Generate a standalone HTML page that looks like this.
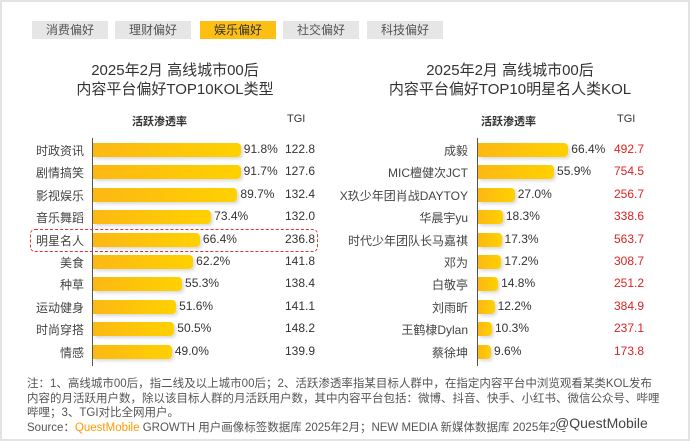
<!DOCTYPE html><html><head><meta charset="utf-8"><style>
body{margin:0;width:690px;height:441px;background:#fff;font-family:"Liberation Sans","Noto Sans CJK SC",sans-serif;overflow:hidden;position:relative}
.frame{position:absolute;left:0;top:0;width:686px;height:437px;border:2px solid #e3e3e3}
.tab{position:absolute;top:21px;width:76px;height:18px;background:#e6e6e6;color:#555;font-size:12px;text-align:center;line-height:18px}
.t{position:absolute;font-size:12px;color:#444;white-space:nowrap}
.h{position:absolute;font-size:11px;color:#333;font-weight:bold}
.title{position:absolute;font-size:15px;color:#333;text-align:center;line-height:19px;width:300px}
.bar{position:absolute;height:14px;background:linear-gradient(90deg,#fcb814,#ffd100);border-radius:0 4px 4px 0;box-shadow:2px 2px 3px rgba(0,0,0,.15)}
.note{position:absolute;left:27px;font-size:11.5px;color:#555;line-height:14.5px;width:635px}
</style></head><body><div class="frame"></div>
<div class="tab" style="left:32px">消费偏好</div>
<div class="tab" style="left:115px">理财偏好</div>
<div class="tab" style="left:200px;background:#fcbf12;color:#333">娱乐偏好</div>
<div class="tab" style="left:283px">社交偏好</div>
<div class="tab" style="left:367px">科技偏好</div>
<div class="title" style="left:25px;top:61px">2025年2月 高线城市00后<br>内容平台偏好TOP10KOL类型</div>
<div class="title" style="left:360px;top:61px">2025年2月 高线城市00后<br>内容平台偏好TOP10明星名人类KOL</div>
<div class="h" style="left:132px;top:113px">活跃渗透率</div><div class="h" style="left:287px;top:113px;font-weight:normal">TGI</div>
<div class="h" style="left:481px;top:113px">活跃渗透率</div><div class="h" style="left:617px;top:113px;font-weight:normal">TGI</div>
<div style="position:absolute;left:92px;top:138px;width:1px;height:228px;background:#555"></div>
<div style="position:absolute;left:477px;top:138px;width:1px;height:228px;background:#555"></div>
<div style="position:absolute;left:30px;top:229px;width:286px;height:21px;border:1px dashed #d33;border-radius:5px"></div>
<div id="c"></div>
<div class="note" style="top:377px">注：1、高线城市00后，指二线及以上城市00后；2、活跃渗透率指某目标人群中，在指定内容平台中浏览观看某类KOL发布内容的月活跃用户数，除以该目标人群的月活跃用户数，其中内容平台包括：微博、抖音、快手、小红书、微信公众号、哔哩哔哩；3、TGI对比全网用户。<br>Source：<span style="color:#f90">QuestMobile</span> GROWTH 用户画像标签数据库 2025年2月；NEW MEDIA 新媒体数据库 2025年2月</div>
<div style="position:absolute;left:555px;top:415px;font-size:14px;color:#444;background:#fff">@QuestMobile</div>
<script>
var L=[["时政资讯",91.8,"122.8"],["剧情搞笑",91.7,"127.6"],["影视娱乐",89.7,"132.4"],["音乐舞蹈",73.4,"132.0"],["明星名人",66.4,"236.8"],["美食",62.2,"141.8"],["种草",55.3,"138.4"],["运动健身",51.6,"141.1"],["时尚穿搭",50.5,"148.2"],["情感",49.0,"139.9"]];
var R=[["成毅",66.4,"492.7"],["MIC檀健次JCT",55.9,"754.5"],["X玖少年团肖战DAYTOY",27.0,"256.7"],["华晨宇yu",18.3,"338.6"],["时代少年团队长马嘉祺",17.3,"563.7"],["邓为",17.2,"308.7"],["白敬亭",14.8,"251.2"],["刘雨昕",12.2,"384.9"],["王鹤棣Dylan",10.3,"237.1"],["蔡徐坤",9.6,"173.8"]];
var h="";
function add(d,ax,sc,lr,tx,red){d.forEach(function(r,i){var y=150+i*22.4;var w=r[1]*sc;
h+='<div class="t" style="right:'+(690-lr)+'px;top:'+(y-8)+'px">'+r[0]+'</div>';
h+='<div class="bar" style="left:'+(ax+1)+'px;top:'+(y-7)+'px;width:'+w+'px"></div>';
h+='<div class="t" style="left:'+(ax+4+w)+'px;top:'+(y-8)+'px;color:#333">'+r[1].toFixed(1)+'%</div>';
h+='<div class="t" style="left:'+tx+'px;top:'+(y-8)+'px;color:'+(red?'#d22':'#333')+'">'+r[2]+'</div>';});}
add(L,92,1.61,84,285,false);add(R,477,1.36,468,614,true);
document.getElementById("c").innerHTML=h;
</script></body></html>
